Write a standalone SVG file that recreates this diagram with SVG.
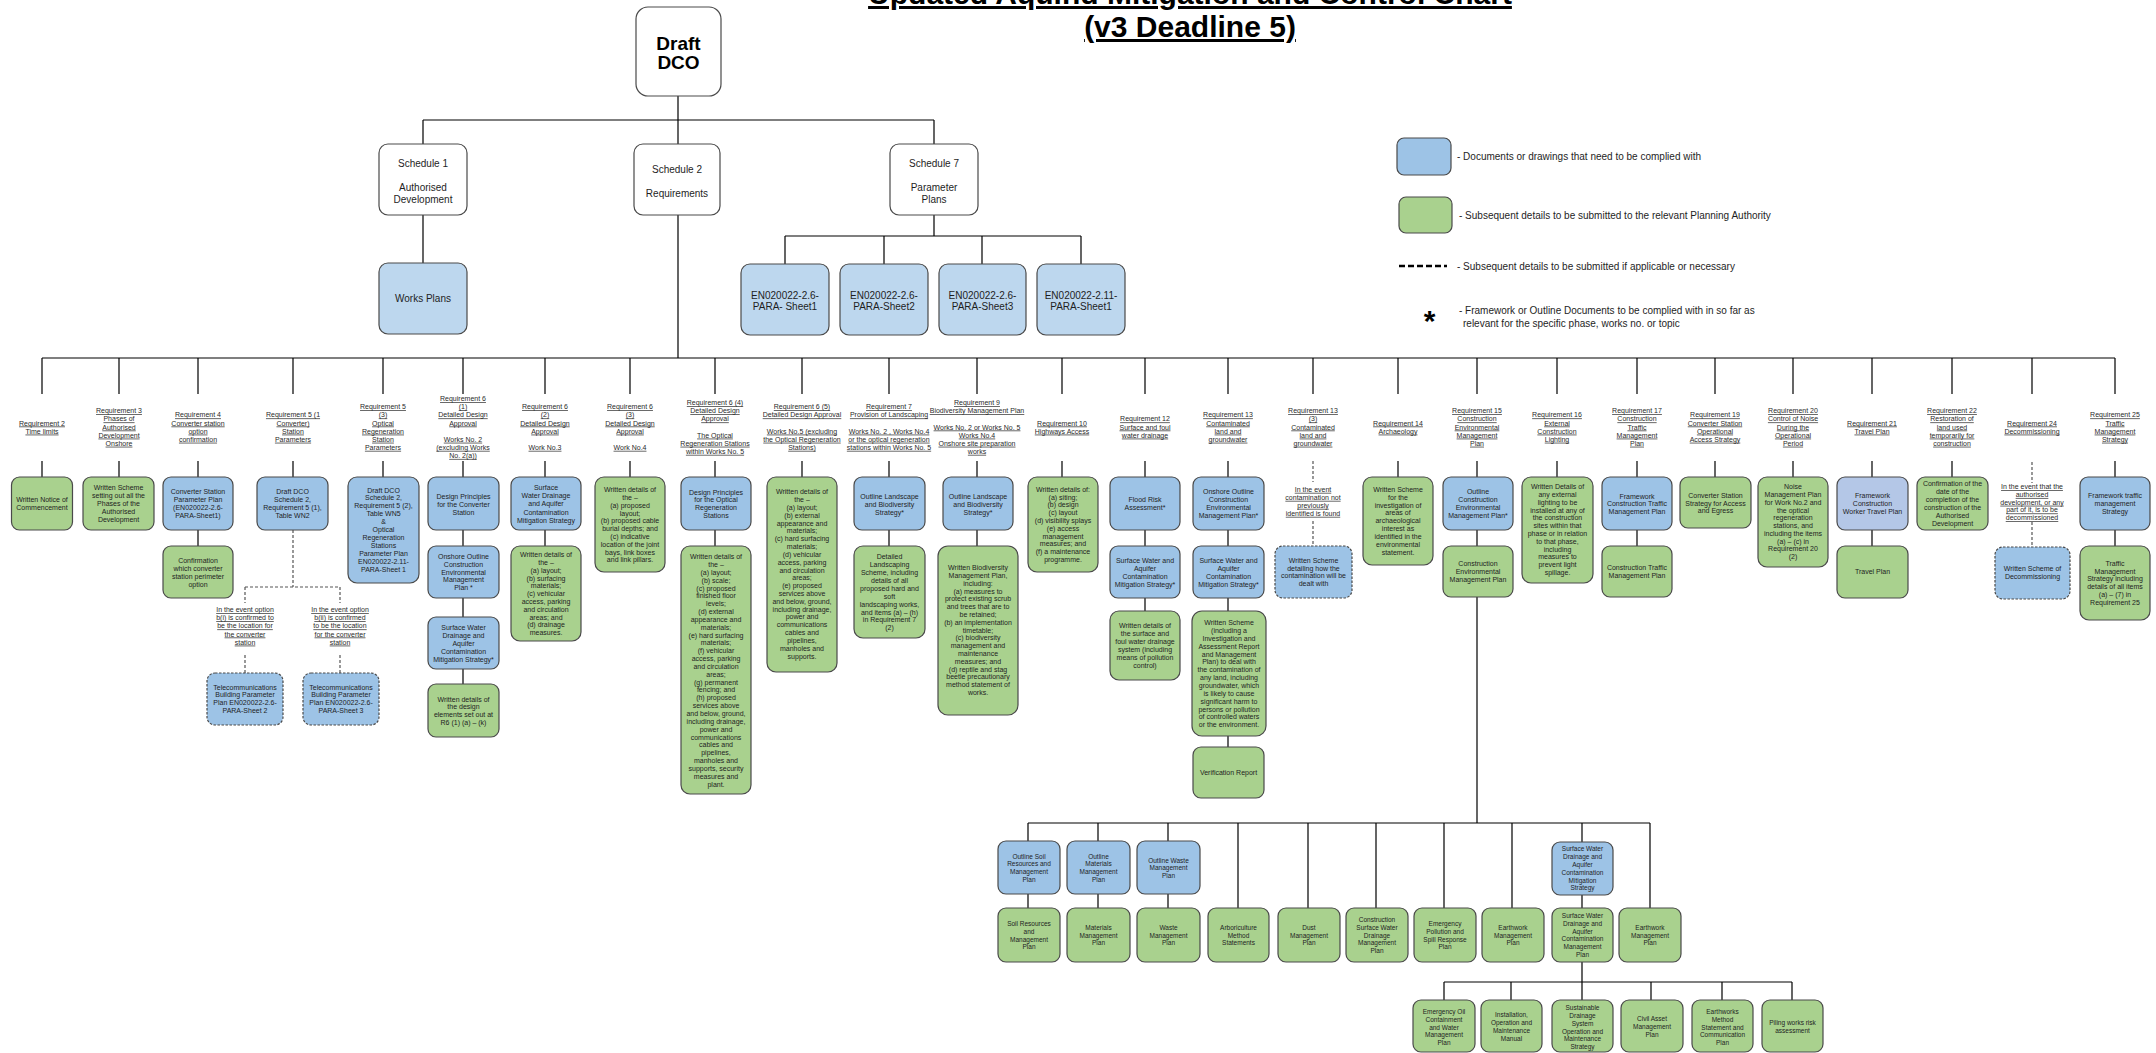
<svg xmlns="http://www.w3.org/2000/svg" width="2156" height="1053" viewBox="0 0 2156 1053">
<style>
.n{stroke:#4a4a4a;stroke-width:1.2}
.w{fill:#fff}
.b{fill:#9dc3e6}
.g{fill:#a9d18e}
.lb{fill:#bdd7ee}
.lv{fill:#b4c7e7}
.dsh{stroke-dasharray:2.5 1.5}
.t{font-family:"Liberation Sans",Arial,sans-serif;font-size:7px;fill:#1e1e1e;text-anchor:middle}
.s{font-size:6.5px}
.r{font-family:"Liberation Sans",Arial,sans-serif;font-size:7px;fill:#2a2a2a;text-anchor:middle;text-decoration:underline}
.m{font-family:"Liberation Sans",Arial,sans-serif;font-size:10px;fill:#1e1e1e;text-anchor:middle}
.lg{font-family:"Liberation Sans",Arial,sans-serif;font-size:10px;fill:#1e1e1e}
.ti{font-family:"Liberation Sans",Arial,sans-serif;font-size:30px;font-weight:bold;fill:#000;text-anchor:middle;text-decoration:underline}
.c{fill:none;stroke:#000;stroke-width:1.2}
.cd{fill:none;stroke:#555;stroke-width:1.2;stroke-dasharray:3 2}
</style>
<rect width="2156" height="1053" fill="#fff"/>

<g id="title">
<text class="ti" x="1190" y="4">Updated Aquind Mitigation and Control Chart</text>
<text class="ti" x="1190" y="37">(v3 Deadline 5)</text>
</g>

<g id="connectors">
<path class="c" d="M678 96V120M423 120H934M423 120V144M678 120V144M934 120V144M423 215V263M934 215V236M785 236H1081M785 236V264M884 236V264M982 236V264M1081 236V264M678 215V358M42 358H2115"/>
<path class="c" d="M42 358V394M119 358V394M198 358V394M293 358V394M383 358V394M463 358V394M545 358V394M630 358V394M715 358V394M802 358V394M889 358V394M977 358V394M1062 358V394M1145 358V394M1228 358V394M1313 358V394M1398 358V394M1477 358V394M1557 358V394M1637 358V394M1715 358V394M1793 358V394M1872 358V394M1952 358V394M2032 358V394M2115 358V394"/>
<path class="c" d="M42 461V477M119 461V477M198 461V477M293 461V477M383 461V477M463 461V477M545 461V477M630 461V477M715 461V477M802 461V477M889 461V477M977 461V477M1062 461V477M1145 461V477M1228 461V477M1398 461V477M1477 461V477M1557 461V477M1637 461V477M1715 461V477M1793 461V477M1872 461V477M1952 461V477M2115 461V477"/>
<path class="c" d="M198 530V546M463 530V546M463 598V617M463 669V684M545 530V546M715 530V546M889 530V546M977 530V546M1145 530V546M1145 598V611M1228 530V546M1228 598V611M1228 736V747M1477 530V546M1477 597V823M1637 530V546M1872 530V546M2115 530V546"/>
<path class="cd" d="M293 530V587M245 587H340M245 587V603M340 587V603M245 655V673M340 655V673M1313 461V482M1313 521V546M2032 462V483M2032 522V547"/>
<path class="c" d="M1028 823H1650M1028 823V841M1098 823V841M1168 823V841M1238 823V908M1308 823V908M1376 823V908M1444 823V908M1512 823V908M1582 823V842M1650 823V908M1028 894V908M1098 894V908M1168 894V908M1582 895V908M1582 962V982M1444 982H1792M1444 982V1000M1511 982V1000M1582 982V1000M1651 982V1000M1722 982V1000M1792 982V1000"/>
</g>

<g id="draft-dco"><rect class="n w" x="636" y="7" width="85" height="89" rx="12"/>
<text x="678.5" y="50" font-family="Liberation Sans,Arial,sans-serif" font-size="19" font-weight="bold" text-anchor="middle">Draft</text>
<text x="678.5" y="69" font-family="Liberation Sans,Arial,sans-serif" font-size="19" font-weight="bold" text-anchor="middle">DCO</text></g>

<g id="schedule1"><rect class="n w" x="379" y="144" width="88" height="71" rx="9"/>
<text class="m" x="423" y="166.5">Schedule 1<tspan x="423" dy="24">Authorised</tspan><tspan x="423" dy="12">Development</tspan></text></g>
<g id="schedule2"><rect class="n w" x="634" y="144" width="86" height="71" rx="9"/>
<text class="m" x="677" y="172.5">Schedule 2<tspan x="677" dy="24">Requirements</tspan></text></g>
<g id="schedule7"><rect class="n w" x="890" y="144" width="88" height="71" rx="9"/>
<text class="m" x="934" y="166.5">Schedule 7<tspan x="934" dy="24">Parameter</tspan><tspan x="934" dy="12">Plans</tspan></text></g>
<g id="works-plans"><rect class="n lb" x="379" y="263" width="88" height="71" rx="9"/>
<text class="m" x="423" y="301.5">Works Plans</text></g>
<g id="en1"><rect class="n lb" x="741" y="264" width="88" height="71" rx="9"/>
<text class="m" x="785" y="298.5">EN020022-2.6-<tspan x="785" dy="11">PARA- Sheet1</tspan></text></g>
<g id="en2"><rect class="n lb" x="840" y="264" width="88" height="71" rx="9"/>
<text class="m" x="884" y="298.5">EN020022-2.6-<tspan x="884" dy="11">PARA-Sheet2</tspan></text></g>
<g id="en3"><rect class="n lb" x="939" y="264" width="87" height="71" rx="9"/>
<text class="m" x="982.5" y="298.5">EN020022-2.6-<tspan x="982.5" dy="11">PARA-Sheet3</tspan></text></g>
<g id="en4"><rect class="n lb" x="1037" y="264" width="88" height="71" rx="9"/>
<text class="m" x="1081" y="298.5">EN020022-2.11-<tspan x="1081" dy="11">PARA-Sheet1</tspan></text></g>

<g id="legend">
<rect class="n b" x="1397" y="138" width="54" height="37" rx="7"/>
<text class="lg" x="1457" y="160">- Documents or drawings that need to be complied with</text>
<rect class="n g" x="1399" y="197" width="53" height="36" rx="7"/>
<text class="lg" x="1459" y="219">- Subsequent details to be submitted to the relevant Planning Authority</text>
<path d="M1399 266H1447" stroke="#000" stroke-width="2.5" stroke-dasharray="6 3"/>
<text class="lg" x="1457" y="269.5">- Subsequent details to be submitted if applicable or necessary</text>
<text x="1429.5" y="331" font-family="Liberation Sans,Arial,sans-serif" font-size="30" font-weight="bold" text-anchor="middle">*</text>
<text class="lg" x="1459" y="314">- Framework or Outline Documents to be complied with in so far as</text>
<text class="lg" x="1463" y="327">relevant for the specific phase, works no. or topic</text>
</g>

<!-- Requirement labels -->
<g id="req-labels">
<text class="r" x="42" y="425.5">Requirement 2<tspan x="42" dy="8.1">Time limits</tspan></text>
<text class="r" x="119" y="413.3">Requirement 3<tspan x="119" dy="8.1">Phases of</tspan><tspan x="119" dy="8.1">Authorised</tspan><tspan x="119" dy="8.1">Development</tspan><tspan x="119" dy="8.1">Onshore</tspan></text>
<text class="r" x="198" y="417.4">Requirement 4<tspan x="198" dy="8.1">Converter station</tspan><tspan x="198" dy="8.1">option</tspan><tspan x="198" dy="8.1">confirmation</tspan></text>
<text class="r" x="293" y="417.4">Requirement 5 (1<tspan x="293" dy="8.1">Converter)</tspan><tspan x="293" dy="8.1">Station</tspan><tspan x="293" dy="8.1">Parameters</tspan></text>
<text class="r" x="383" y="409.3">Requirement 5<tspan x="383" dy="8.1">(3)</tspan><tspan x="383" dy="8.1">Optical</tspan><tspan x="383" dy="8.1">Regeneration</tspan><tspan x="383" dy="8.1">Station</tspan><tspan x="383" dy="8.1">Parameters</tspan></text>
<text class="r" x="463" y="401.2">Requirement 6<tspan x="463" dy="8.1">(1)</tspan><tspan x="463" dy="8.1">Detailed Design</tspan><tspan x="463" dy="8.1">Approval</tspan><tspan x="463" dy="16.2">Works No. 2</tspan><tspan x="463" dy="8.1">(excluding Works</tspan><tspan x="463" dy="8.1">No. 2(a))</tspan></text>
<text class="r" x="545" y="409.3">Requirement 6<tspan x="545" dy="8.1">(2)</tspan><tspan x="545" dy="8.1">Detailed Design</tspan><tspan x="545" dy="8.1">Approval</tspan><tspan x="545" dy="16.2">Work No.3</tspan></text>
<text class="r" x="630" y="409.3">Requirement 6<tspan x="630" dy="8.1">(3)</tspan><tspan x="630" dy="8.1">Detailed Design</tspan><tspan x="630" dy="8.1">Approval</tspan><tspan x="630" dy="16.2">Work No.4</tspan></text>
<text class="r" x="715" y="405.2">Requirement 6 (4)<tspan x="715" dy="8.1">Detailed Design</tspan><tspan x="715" dy="8.1">Approval</tspan><tspan x="715" dy="16.2">The Optical</tspan><tspan x="715" dy="8.1">Regeneration Stations</tspan><tspan x="715" dy="8.1">within Works No. 5</tspan></text>
<text class="r" x="802" y="409.3">Requirement 6 (5)<tspan x="802" dy="8.1">Detailed Design Approval</tspan><tspan x="802" dy="16.2">Works No.5 (excluding</tspan><tspan x="802" dy="8.1">the Optical Regeneration</tspan><tspan x="802" dy="8.1">Stations)</tspan></text>
<text class="r" x="889" y="409.3">Requirement 7<tspan x="889" dy="8.1">Provision of Landscaping</tspan><tspan x="889" dy="16.2">Works No. 2 , Works No.4</tspan><tspan x="889" dy="8.1">or the optical regeneration</tspan><tspan x="889" dy="8.1">stations within Works No. 5</tspan></text>
<text class="r" x="977" y="405.2">Requirement 9<tspan x="977" dy="8.1">Biodiversity Management Plan</tspan><tspan x="977" dy="16.2">Works No. 2 or Works No. 5</tspan><tspan x="977" dy="8.1">Works No.4</tspan><tspan x="977" dy="8.1">Onshore site preparation</tspan><tspan x="977" dy="8.1">works</tspan></text>
<text class="r" x="1062" y="425.5">Requirement 10<tspan x="1062" dy="8.1">Highways Access</tspan></text>
<text class="r" x="1145" y="421.4">Requirement 12<tspan x="1145" dy="8.1">Surface and foul</tspan><tspan x="1145" dy="8.1">water drainage</tspan></text>
<text class="r" x="1228" y="417.4">Requirement 13<tspan x="1228" dy="8.1">Contaminated</tspan><tspan x="1228" dy="8.1">land and</tspan><tspan x="1228" dy="8.1">groundwater</tspan></text>
<text class="r" x="1313" y="413.3">Requirement 13<tspan x="1313" dy="8.1">(3)</tspan><tspan x="1313" dy="8.1">Contaminated</tspan><tspan x="1313" dy="8.1">land and</tspan><tspan x="1313" dy="8.1">groundwater</tspan></text>
<text class="r" x="1398" y="425.5">Requirement 14<tspan x="1398" dy="8.1">Archaeology</tspan></text>
<text class="r" x="1477" y="413.3">Requirement 15<tspan x="1477" dy="8.1">Construction</tspan><tspan x="1477" dy="8.1">Environmental</tspan><tspan x="1477" dy="8.1">Management</tspan><tspan x="1477" dy="8.1">Plan</tspan></text>
<text class="r" x="1557" y="417.4">Requirement 16<tspan x="1557" dy="8.1">External</tspan><tspan x="1557" dy="8.1">Construction</tspan><tspan x="1557" dy="8.1">Lighting</tspan></text>
<text class="r" x="1637" y="413.3">Requirement 17<tspan x="1637" dy="8.1">Construction</tspan><tspan x="1637" dy="8.1">Traffic</tspan><tspan x="1637" dy="8.1">Management</tspan><tspan x="1637" dy="8.1">Plan</tspan></text>
<text class="r" x="1715" y="417.4">Requirement 19<tspan x="1715" dy="8.1">Converter Station</tspan><tspan x="1715" dy="8.1">Operational</tspan><tspan x="1715" dy="8.1">Access Strategy</tspan></text>
<text class="r" x="1793" y="413.3">Requirement 20<tspan x="1793" dy="8.1">Control of Noise</tspan><tspan x="1793" dy="8.1">During the</tspan><tspan x="1793" dy="8.1">Operational</tspan><tspan x="1793" dy="8.1">Period</tspan></text>
<text class="r" x="1872" y="425.5">Requirement 21<tspan x="1872" dy="8.1">Travel Plan</tspan></text>
<text class="r" x="1952" y="413.3">Requirement 22<tspan x="1952" dy="8.1">Restoration of</tspan><tspan x="1952" dy="8.1">land used</tspan><tspan x="1952" dy="8.1">temporarily for</tspan><tspan x="1952" dy="8.1">construction</tspan></text>
<text class="r" x="2032" y="425.5">Requirement 24<tspan x="2032" dy="8.1">Decommissioning</tspan></text>
<text class="r" x="2115" y="417.4">Requirement 25<tspan x="2115" dy="8.1">Traffic</tspan><tspan x="2115" dy="8.1">Management</tspan><tspan x="2115" dy="8.1">Strategy</tspan></text>
<text class="r" x="245" y="612.2">In the event option<tspan x="245" dy="8.1">b(i) is confirmed to</tspan><tspan x="245" dy="8.1">be the location for</tspan><tspan x="245" dy="8.1">the converter</tspan><tspan x="245" dy="8.1">station</tspan></text>
<text class="r" x="340" y="612.2">In the event option<tspan x="340" dy="8.1">b(ii) is confirmed</tspan><tspan x="340" dy="8.1">to be the location</tspan><tspan x="340" dy="8.1">for the converter</tspan><tspan x="340" dy="8.1">station</tspan></text>
<text class="r" x="1313" y="491.8">In the event<tspan x="1313" dy="8">contamination not</tspan><tspan x="1313" dy="8">previously</tspan><tspan x="1313" dy="8">identified is found</tspan></text>
<text class="r" x="2032" y="489.2">In the event that the<tspan x="2032" dy="7.75">authorised</tspan><tspan x="2032" dy="7.75">development, or any</tspan><tspan x="2032" dy="7.75">part of it, is to be</tspan><tspan x="2032" dy="7.75">decommissioned</tspan></text>
</g>

<g id="r2-notice"><rect class="n g" x="11.5" y="477" width="61" height="53" rx="8"/>
<text class="t" x="42" y="501.8">Written Notice of<tspan x="42" dy="8">Commencement</tspan></text></g>
<g id="r3-scheme"><rect class="n g" x="83" y="477" width="71" height="53" rx="8"/>
<text class="t" x="118.5" y="490.2">Written Scheme<tspan x="118.5" dy="8">setting out all the</tspan><tspan x="118.5" dy="8">Phases of the</tspan><tspan x="118.5" dy="8">Authorised</tspan><tspan x="118.5" dy="8">Development</tspan></text></g>
<g id="r4-param"><rect class="n b" x="163" y="477" width="70" height="53" rx="8"/>
<text class="t" x="198" y="493.8">Converter Station<tspan x="198" dy="8.1">Parameter Plan</tspan><tspan x="198" dy="8.1">(EN020022-2.6-</tspan><tspan x="198" dy="8.1">PARA-Sheet1)</tspan></text></g>
<g id="r4-confirm"><rect class="n g" x="163" y="546" width="70" height="52" rx="8"/>
<text class="t" x="198" y="562.5">Confirmation<tspan x="198" dy="8.2">which converter</tspan><tspan x="198" dy="8.2">station perimeter</tspan><tspan x="198" dy="8.2">option</tspan></text></g>
<g id="r5-1-table"><rect class="n b" x="257" y="477" width="71" height="53" rx="8"/>
<text class="t" x="292.5" y="493.8">Draft DCO<tspan x="292.5" dy="8.1">Schedule 2,</tspan><tspan x="292.5" dy="8.1">Requirement 5 (1),</tspan><tspan x="292.5" dy="8.1">Table WN2</tspan></text></g>
<g id="telecom-2"><rect class="n b dsh" x="207" y="673" width="76" height="52" rx="8"/>
<text class="t" x="245" y="689.8">Telecommunications<tspan x="245" dy="7.6">Building Parameter</tspan><tspan x="245" dy="7.6">Plan EN020022-2.6-</tspan><tspan x="245" dy="7.6">PARA-Sheet 2</tspan></text></g>
<g id="telecom-3"><rect class="n b dsh" x="303" y="673" width="76" height="52" rx="8"/>
<text class="t" x="341" y="689.8">Telecommunications<tspan x="341" dy="7.6">Building Parameter</tspan><tspan x="341" dy="7.6">Plan EN020022-2.6-</tspan><tspan x="341" dy="7.6">PARA-Sheet 3</tspan></text></g>
<g id="r5-3-table"><rect class="n b" x="348" y="477" width="71" height="106" rx="9"/>
<text class="t" x="383.5" y="492.5">Draft DCO<tspan x="383.5" dy="7.9">Schedule 2,</tspan><tspan x="383.5" dy="7.9">Requirement 5 (2),</tspan><tspan x="383.5" dy="7.9">Table WN5</tspan><tspan x="383.5" dy="7.9">&amp;</tspan><tspan x="383.5" dy="7.9">Optical</tspan><tspan x="383.5" dy="7.9">Regeneration</tspan><tspan x="383.5" dy="7.9">Stations</tspan><tspan x="383.5" dy="7.9">Parameter Plan</tspan><tspan x="383.5" dy="7.9">EN020022-2.11-</tspan><tspan x="383.5" dy="7.9">PARA-Sheet 1</tspan></text></g>
<g id="r6-1-principles"><rect class="n b" x="428" y="477" width="71" height="53" rx="8"/>
<text class="t" x="463.5" y="498.5">Design Principles<tspan x="463.5" dy="8">for the Converter</tspan><tspan x="463.5" dy="8">Station</tspan></text></g>
<g id="r6-1-ocemp"><rect class="n b" x="428" y="546" width="71" height="52" rx="8"/>
<text class="t" x="463.5" y="559.2">Onshore Outline<tspan x="463.5" dy="7.75">Construction</tspan><tspan x="463.5" dy="7.75">Environmental</tspan><tspan x="463.5" dy="7.75">Management</tspan><tspan x="463.5" dy="7.75">Plan *</tspan></text></g>
<g id="r6-1-swdacms"><rect class="n b" x="428" y="617" width="71" height="52" rx="8"/>
<text class="t" x="463.5" y="630.2">Surface Water<tspan x="463.5" dy="7.85">Drainage and</tspan><tspan x="463.5" dy="7.85">Aquifer</tspan><tspan x="463.5" dy="7.85">Contamination</tspan><tspan x="463.5" dy="7.85">Mitigation Strategy*</tspan></text></g>
<g id="r6-1-details"><rect class="n g" x="428" y="684" width="71" height="53" rx="8"/>
<text class="t" x="463.5" y="701.5">Written details of<tspan x="463.5" dy="7.7">the design</tspan><tspan x="463.5" dy="7.7">elements set out at</tspan><tspan x="463.5" dy="7.7">R6 (1) (a) – (k)</tspan></text></g>
<g id="r6-2-swdacms"><rect class="n b" x="511" y="477" width="70" height="53" rx="8"/>
<text class="t" x="546" y="490.2">Surface<tspan x="546" dy="8.1">Water Drainage</tspan><tspan x="546" dy="8.1">and Aquifer</tspan><tspan x="546" dy="8.1">Contamination</tspan><tspan x="546" dy="8.1">Mitigation Strategy</tspan></text></g>
<g id="r6-2-details"><rect class="n g" x="511" y="546" width="70" height="95" rx="9"/>
<text class="t" x="546" y="557.2">Written details of<tspan x="546" dy="7.8">the –</tspan><tspan x="546" dy="7.8">(a) layout;</tspan><tspan x="546" dy="7.8">(b) surfacing</tspan><tspan x="546" dy="7.8">materials;</tspan><tspan x="546" dy="7.8">(c) vehicular</tspan><tspan x="546" dy="7.8">access, parking</tspan><tspan x="546" dy="7.8">and circulation</tspan><tspan x="546" dy="7.8">areas; and</tspan><tspan x="546" dy="7.8">(d) drainage</tspan><tspan x="546" dy="7.8">measures.</tspan></text></g>
<g id="r6-3-details"><rect class="n g" x="595" y="477" width="70" height="95" rx="9"/>
<text class="t" x="630" y="492.2">Written details of<tspan x="630" dy="7.8">the –</tspan><tspan x="630" dy="7.8">(a) proposed</tspan><tspan x="630" dy="7.8">layout;</tspan><tspan x="630" dy="7.8">(b) proposed cable</tspan><tspan x="630" dy="7.8">burial depths; and</tspan><tspan x="630" dy="7.8">(c) indicative</tspan><tspan x="630" dy="7.8">location of the joint</tspan><tspan x="630" dy="7.8">bays, link boxes</tspan><tspan x="630" dy="7.8">and link pillars.</tspan></text></g>
<g id="r6-4-principles"><rect class="n b" x="681" y="477" width="70" height="53" rx="8"/>
<text class="t" x="716" y="494.5">Design Principles<tspan x="716" dy="7.9">for the Optical</tspan><tspan x="716" dy="7.9">Regeneration</tspan><tspan x="716" dy="7.9">Stations</tspan></text></g>
<g id="r6-4-details"><rect class="n g" x="681" y="546" width="70" height="248" rx="9"/>
<text class="t" x="716" y="559.2">Written details of<tspan x="716" dy="7.84">the –</tspan><tspan x="716" dy="7.84">(a) layout;</tspan><tspan x="716" dy="7.84">(b) scale;</tspan><tspan x="716" dy="7.84">(c) proposed</tspan><tspan x="716" dy="7.84">finished floor</tspan><tspan x="716" dy="7.84">levels;</tspan><tspan x="716" dy="7.84">(d) external</tspan><tspan x="716" dy="7.84">appearance and</tspan><tspan x="716" dy="7.84">materials;</tspan><tspan x="716" dy="7.84">(e) hard surfacing</tspan><tspan x="716" dy="7.84">materials;</tspan><tspan x="716" dy="7.84">(f) vehicular</tspan><tspan x="716" dy="7.84">access, parking</tspan><tspan x="716" dy="7.84">and circulation</tspan><tspan x="716" dy="7.84">areas;</tspan><tspan x="716" dy="7.84">(g) permanent</tspan><tspan x="716" dy="7.84">fencing; and</tspan><tspan x="716" dy="7.84">(h) proposed</tspan><tspan x="716" dy="7.84">services above</tspan><tspan x="716" dy="7.84">and below, ground,</tspan><tspan x="716" dy="7.84">including drainage,</tspan><tspan x="716" dy="7.84">power and</tspan><tspan x="716" dy="7.84">communications</tspan><tspan x="716" dy="7.84">cables and</tspan><tspan x="716" dy="7.84">pipelines,</tspan><tspan x="716" dy="7.84">manholes and</tspan><tspan x="716" dy="7.84">supports, security</tspan><tspan x="716" dy="7.84">measures and</tspan><tspan x="716" dy="7.84">plant.</tspan></text></g>
<g id="r6-5-details"><rect class="n g" x="767" y="477" width="70" height="195" rx="9"/>
<text class="t" x="802" y="494.2">Written details of<tspan x="802" dy="7.83">the –</tspan><tspan x="802" dy="7.83">(a) layout;</tspan><tspan x="802" dy="7.83">(b) external</tspan><tspan x="802" dy="7.83">appearance and</tspan><tspan x="802" dy="7.83">materials;</tspan><tspan x="802" dy="7.83">(c) hard surfacing</tspan><tspan x="802" dy="7.83">materials;</tspan><tspan x="802" dy="7.83">(d) vehicular</tspan><tspan x="802" dy="7.83">access, parking</tspan><tspan x="802" dy="7.83">and circulation</tspan><tspan x="802" dy="7.83">areas;</tspan><tspan x="802" dy="7.83">(e) proposed</tspan><tspan x="802" dy="7.83">services above</tspan><tspan x="802" dy="7.83">and below, ground,</tspan><tspan x="802" dy="7.83">including drainage,</tspan><tspan x="802" dy="7.83">power and</tspan><tspan x="802" dy="7.83">communications</tspan><tspan x="802" dy="7.83">cables and</tspan><tspan x="802" dy="7.83">pipelines,</tspan><tspan x="802" dy="7.83">manholes and</tspan><tspan x="802" dy="7.83">supports.</tspan></text></g>
<g id="r7-olbs"><rect class="n b" x="854" y="477" width="71" height="53" rx="8"/>
<text class="t" x="889.5" y="498.5">Outline Landscape<tspan x="889.5" dy="8">and Biodiversity</tspan><tspan x="889.5" dy="8">Strategy*</tspan></text></g>
<g id="r7-landscaping"><rect class="n g" x="854" y="546" width="71" height="92" rx="9"/>
<text class="t" x="889.5" y="559.2">Detailed<tspan x="889.5" dy="7.9">Landscaping</tspan><tspan x="889.5" dy="7.9">Scheme, including</tspan><tspan x="889.5" dy="7.9">details of all</tspan><tspan x="889.5" dy="7.9">proposed hard and</tspan><tspan x="889.5" dy="7.9">soft</tspan><tspan x="889.5" dy="7.9">landscaping works,</tspan><tspan x="889.5" dy="7.9">and items (a) – (h)</tspan><tspan x="889.5" dy="7.9">in Requirement 7</tspan><tspan x="889.5" dy="7.9">(2)</tspan></text></g>
<g id="r9-olbs"><rect class="n b" x="943" y="477" width="70" height="53" rx="8"/>
<text class="t" x="978" y="498.5">Outline Landscape<tspan x="978" dy="8">and Biodiversity</tspan><tspan x="978" dy="8">Strategy*</tspan></text></g>
<g id="r9-bmp"><rect class="n g" x="938" y="546" width="80" height="169" rx="10"/>
<text class="t" x="978" y="570.2">Written Biodiversity<tspan x="978" dy="7.8">Management Plan,</tspan><tspan x="978" dy="7.8">including:</tspan><tspan x="978" dy="7.8">(a) measures to</tspan><tspan x="978" dy="7.8">protect existing scrub</tspan><tspan x="978" dy="7.8">and trees that are to</tspan><tspan x="978" dy="7.8">be retained;</tspan><tspan x="978" dy="7.8">(b) an implementation</tspan><tspan x="978" dy="7.8">timetable;</tspan><tspan x="978" dy="7.8">(c) biodiversity</tspan><tspan x="978" dy="7.8">management and</tspan><tspan x="978" dy="7.8">maintenance</tspan><tspan x="978" dy="7.8">measures; and</tspan><tspan x="978" dy="7.8">(d) reptile and stag</tspan><tspan x="978" dy="7.8">beetle precautionary</tspan><tspan x="978" dy="7.8">method statement of</tspan><tspan x="978" dy="7.8">works.</tspan></text></g>
<g id="r10-details"><rect class="n g" x="1028" y="477" width="70" height="95" rx="9"/>
<text class="t" x="1063" y="491.8">Written details of:<tspan x="1063" dy="7.8">(a) siting;</tspan><tspan x="1063" dy="7.8">(b) design</tspan><tspan x="1063" dy="7.8">(c) layout</tspan><tspan x="1063" dy="7.8">(d) visibility splays</tspan><tspan x="1063" dy="7.8">(e) access</tspan><tspan x="1063" dy="7.8">management</tspan><tspan x="1063" dy="7.8">measures; and</tspan><tspan x="1063" dy="7.8">(f) a maintenance</tspan><tspan x="1063" dy="7.8">programme.</tspan></text></g>
<g id="r12-fra"><rect class="n b" x="1110" y="477" width="70" height="53" rx="8"/>
<text class="t" x="1145" y="501.8">Flood Risk<tspan x="1145" dy="8">Assessment*</tspan></text></g>
<g id="r12-swacms"><rect class="n b" x="1110" y="546" width="70" height="52" rx="8"/>
<text class="t" x="1145" y="563.2">Surface Water and<tspan x="1145" dy="7.8">Aquifer</tspan><tspan x="1145" dy="7.8">Contamination</tspan><tspan x="1145" dy="7.8">Mitigation Strategy*</tspan></text></g>
<g id="r12-details"><rect class="n g" x="1110" y="611" width="70" height="69" rx="9"/>
<text class="t" x="1145" y="628.2">Written details of<tspan x="1145" dy="7.9">the surface and</tspan><tspan x="1145" dy="7.9">foul water drainage</tspan><tspan x="1145" dy="7.9">system (including</tspan><tspan x="1145" dy="7.9">means of pollution</tspan><tspan x="1145" dy="7.9">control)</tspan></text></g>
<g id="r13-ocemp"><rect class="n b" x="1193" y="477" width="71" height="53" rx="8"/>
<text class="t" x="1228.5" y="494.2">Onshore Outline<tspan x="1228.5" dy="8">Construction</tspan><tspan x="1228.5" dy="8">Environmental</tspan><tspan x="1228.5" dy="8">Management Plan*</tspan></text></g>
<g id="r13-swacms"><rect class="n b" x="1193" y="546" width="71" height="52" rx="8"/>
<text class="t" x="1228.5" y="563.2">Surface Water and<tspan x="1228.5" dy="7.8">Aquifer</tspan><tspan x="1228.5" dy="7.8">Contamination</tspan><tspan x="1228.5" dy="7.8">Mitigation Strategy*</tspan></text></g>
<g id="r13-scheme"><rect class="n g" x="1192" y="611" width="74" height="125" rx="10"/>
<text class="t" x="1229" y="625.2">Written Scheme<tspan x="1229" dy="7.85">(including a</tspan><tspan x="1229" dy="7.85">Investigation and</tspan><tspan x="1229" dy="7.85">Assessment Report</tspan><tspan x="1229" dy="7.85">and Management</tspan><tspan x="1229" dy="7.85">Plan) to deal with</tspan><tspan x="1229" dy="7.85">the contamination of</tspan><tspan x="1229" dy="7.85">any land, including</tspan><tspan x="1229" dy="7.85">groundwater, which</tspan><tspan x="1229" dy="7.85">is likely to cause</tspan><tspan x="1229" dy="7.85">significant harm to</tspan><tspan x="1229" dy="7.85">persons or pollution</tspan><tspan x="1229" dy="7.85">of controlled waters</tspan><tspan x="1229" dy="7.85">or the environment.</tspan></text></g>
<g id="r13-verification"><rect class="n g" x="1193" y="747" width="71" height="51" rx="8"/>
<text class="t" x="1228.5" y="775.2">Verification Report</text></g>
<g id="r13-3-scheme"><rect class="n b dsh" x="1275" y="546" width="77" height="52" rx="8"/>
<text class="t" x="1313.5" y="563.2">Written Scheme<tspan x="1313.5" dy="7.6">detailing how the</tspan><tspan x="1313.5" dy="7.6">contamination will be</tspan><tspan x="1313.5" dy="7.6">dealt with</tspan></text></g>
<g id="r14-scheme"><rect class="n g" x="1363" y="477" width="70" height="88" rx="9"/>
<text class="t" x="1398" y="491.8">Written Scheme<tspan x="1398" dy="7.85">for the</tspan><tspan x="1398" dy="7.85">investigation of</tspan><tspan x="1398" dy="7.85">areas of</tspan><tspan x="1398" dy="7.85">archaeological</tspan><tspan x="1398" dy="7.85">interest as</tspan><tspan x="1398" dy="7.85">identified in the</tspan><tspan x="1398" dy="7.85">environmental</tspan><tspan x="1398" dy="7.85">statement.</tspan></text></g>
<g id="r15-ocemp"><rect class="n b" x="1443" y="477" width="70" height="53" rx="8"/>
<text class="t" x="1478" y="494.2">Outline<tspan x="1478" dy="8">Construction</tspan><tspan x="1478" dy="8">Environmental</tspan><tspan x="1478" dy="8">Management Plan*</tspan></text></g>
<g id="r15-cemp"><rect class="n g" x="1443" y="546" width="70" height="51" rx="8"/>
<text class="t" x="1478" y="565.8">Construction<tspan x="1478" dy="8.2">Environmental</tspan><tspan x="1478" dy="8.2">Management Plan</tspan></text></g>
<g id="r16-lighting"><rect class="n g" x="1522" y="477" width="71" height="106" rx="9"/>
<text class="t" x="1557.5" y="489.2">Written Details of<tspan x="1557.5" dy="7.8">any external</tspan><tspan x="1557.5" dy="7.8">lighting to be</tspan><tspan x="1557.5" dy="7.8">installed at any of</tspan><tspan x="1557.5" dy="7.8">the construction</tspan><tspan x="1557.5" dy="7.8">sites within that</tspan><tspan x="1557.5" dy="7.8">phase or in relation</tspan><tspan x="1557.5" dy="7.8">to that phase,</tspan><tspan x="1557.5" dy="7.8">including</tspan><tspan x="1557.5" dy="7.8">measures to</tspan><tspan x="1557.5" dy="7.8">prevent light</tspan><tspan x="1557.5" dy="7.8">spillage.</tspan></text></g>
<g id="r17-fctmp"><rect class="n b" x="1602" y="477" width="70" height="53" rx="8"/>
<text class="t" x="1637" y="498.5">Framework<tspan x="1637" dy="7.8">Construction Traffic</tspan><tspan x="1637" dy="7.8">Management Plan</tspan></text></g>
<g id="r17-ctmp"><rect class="n g" x="1602" y="546" width="70" height="51" rx="8"/>
<text class="t" x="1637" y="570.2">Construction Traffic<tspan x="1637" dy="8">Management Plan</tspan></text></g>
<g id="r19-access"><rect class="n g" x="1680" y="477" width="71" height="51" rx="8"/>
<text class="t" x="1715.5" y="498.2">Converter Station<tspan x="1715.5" dy="7.5">Strategy for Access</tspan><tspan x="1715.5" dy="7.5">and Egress</tspan></text></g>
<g id="r20-noise"><rect class="n g" x="1758" y="477" width="70" height="90" rx="9"/>
<text class="t" x="1793" y="489.2">Noise<tspan x="1793" dy="7.78">Management Plan</tspan><tspan x="1793" dy="7.78">for Work No.2 and</tspan><tspan x="1793" dy="7.78">the optical</tspan><tspan x="1793" dy="7.78">regeneration</tspan><tspan x="1793" dy="7.78">stations, and</tspan><tspan x="1793" dy="7.78">including the items</tspan><tspan x="1793" dy="7.78">(a) – (c) in</tspan><tspan x="1793" dy="7.78">Requirement 20</tspan><tspan x="1793" dy="7.78">(2)</tspan></text></g>
<g id="r21-fcwtp"><rect class="n lv" x="1837" y="477" width="71" height="53" rx="8"/>
<text class="t" x="1872.5" y="498.2">Framework<tspan x="1872.5" dy="7.8">Construction</tspan><tspan x="1872.5" dy="7.8">Worker Travel Plan</tspan></text></g>
<g id="r21-travel"><rect class="n g" x="1837" y="546" width="71" height="52" rx="8"/>
<text class="t" x="1872.5" y="574.2">Travel Plan</text></g>
<g id="r22-confirm"><rect class="n g" x="1917" y="477" width="71" height="53" rx="8"/>
<text class="t" x="1952.5" y="485.8">Confirmation of the<tspan x="1952.5" dy="8">date of the</tspan><tspan x="1952.5" dy="8">completion of the</tspan><tspan x="1952.5" dy="8">construction of the</tspan><tspan x="1952.5" dy="8">Authorised</tspan><tspan x="1952.5" dy="8">Development</tspan></text></g>
<g id="r24-decom"><rect class="n b dsh" x="1995" y="547" width="75" height="52" rx="8"/>
<text class="t" x="2032.5" y="571.2">Written Scheme of<tspan x="2032.5" dy="8">Decommissioning</tspan></text></g>
<g id="r25-ftms"><rect class="n b" x="2080" y="477" width="70" height="53" rx="8"/>
<text class="t" x="2115" y="498.2">Framework traffic<tspan x="2115" dy="8">management</tspan><tspan x="2115" dy="8">Strategy</tspan></text></g>
<g id="r25-tms"><rect class="n g" x="2080" y="546" width="70" height="74" rx="9"/>
<text class="t" x="2115" y="565.8">Traffic<tspan x="2115" dy="7.8">Management</tspan><tspan x="2115" dy="7.8">Strategy including</tspan><tspan x="2115" dy="7.8">details of all items</tspan><tspan x="2115" dy="7.8">(a) – (7) in</tspan><tspan x="2115" dy="7.8">Requirement 25</tspan></text></g>

<g id="osrmp"><rect class="n b" x="998" y="841" width="62" height="53" rx="8"/>
<text class="t s" x="1029" y="858.5">Outline Soil<tspan x="1029" dy="7.7">Resources and</tspan><tspan x="1029" dy="7.7">Management</tspan><tspan x="1029" dy="7.7">Plan</tspan></text></g>
<g id="ommp"><rect class="n b" x="1067" y="841" width="63" height="53" rx="8"/>
<text class="t s" x="1098.5" y="858.5">Outline<tspan x="1098.5" dy="7.7">Materials</tspan><tspan x="1098.5" dy="7.7">Management</tspan><tspan x="1098.5" dy="7.7">Plan</tspan></text></g>
<g id="owmp"><rect class="n b" x="1137" y="841" width="63" height="53" rx="8"/>
<text class="t s" x="1168.5" y="862.5">Outline Waste<tspan x="1168.5" dy="7.8">Management</tspan><tspan x="1168.5" dy="7.8">Plan</tspan></text></g>
<g id="swdacms-low"><rect class="n b" x="1552" y="842" width="61" height="53" rx="8"/>
<text class="t s" x="1582.5" y="851.2">Surface Water<tspan x="1582.5" dy="7.85">Drainage and</tspan><tspan x="1582.5" dy="7.85">Aquifer</tspan><tspan x="1582.5" dy="7.85">Contamination</tspan><tspan x="1582.5" dy="7.85">Mitigation</tspan><tspan x="1582.5" dy="7.85">Strategy</tspan></text></g>
<g id="srmp"><rect class="n g" x="998" y="908" width="62" height="54" rx="8"/>
<text class="t s" x="1029" y="926.2">Soil Resources<tspan x="1029" dy="7.7">and</tspan><tspan x="1029" dy="7.7">Management</tspan><tspan x="1029" dy="7.7">Plan</tspan></text></g>
<g id="mmp"><rect class="n g" x="1067" y="908" width="63" height="54" rx="8"/>
<text class="t s" x="1098.5" y="930.2">Materials<tspan x="1098.5" dy="7.5">Management</tspan><tspan x="1098.5" dy="7.5">Plan</tspan></text></g>
<g id="wmp"><rect class="n g" x="1137" y="908" width="63" height="54" rx="8"/>
<text class="t s" x="1168.5" y="930.2">Waste<tspan x="1168.5" dy="7.5">Management</tspan><tspan x="1168.5" dy="7.5">Plan</tspan></text></g>
<g id="ams"><rect class="n g" x="1208" y="908" width="61" height="54" rx="8"/>
<text class="t s" x="1238.5" y="930.2">Arboriculture<tspan x="1238.5" dy="7.5">Method</tspan><tspan x="1238.5" dy="7.5">Statements</tspan></text></g>
<g id="dmp"><rect class="n g" x="1278" y="908" width="62" height="54" rx="8"/>
<text class="t s" x="1309" y="930.2">Dust<tspan x="1309" dy="7.5">Management</tspan><tspan x="1309" dy="7.5">Plan</tspan></text></g>
<g id="cswdmp"><rect class="n g" x="1346" y="908" width="62" height="54" rx="8"/>
<text class="t s" x="1377" y="921.8">Construction<tspan x="1377" dy="7.85">Surface Water</tspan><tspan x="1377" dy="7.85">Drainage</tspan><tspan x="1377" dy="7.85">Management</tspan><tspan x="1377" dy="7.85">Plan</tspan></text></g>
<g id="epsrp"><rect class="n g" x="1414" y="908" width="62" height="54" rx="8"/>
<text class="t s" x="1445" y="926.2">Emergency<tspan x="1445" dy="7.7">Pollution and</tspan><tspan x="1445" dy="7.7">Spill Response</tspan><tspan x="1445" dy="7.7">Plan</tspan></text></g>
<g id="emp1"><rect class="n g" x="1482" y="908" width="62" height="54" rx="8"/>
<text class="t s" x="1513" y="930.2">Earthwork<tspan x="1513" dy="7.5">Management</tspan><tspan x="1513" dy="7.5">Plan</tspan></text></g>
<g id="swdacmp"><rect class="n g" x="1552" y="908" width="61" height="54" rx="8"/>
<text class="t s" x="1582.5" y="917.8">Surface Water<tspan x="1582.5" dy="7.85">Drainage and</tspan><tspan x="1582.5" dy="7.85">Aquifer</tspan><tspan x="1582.5" dy="7.85">Contamination</tspan><tspan x="1582.5" dy="7.85">Management</tspan><tspan x="1582.5" dy="7.85">Plan</tspan></text></g>
<g id="emp2"><rect class="n g" x="1619" y="908" width="62" height="54" rx="8"/>
<text class="t s" x="1650" y="930.2">Earthwork<tspan x="1650" dy="7.5">Management</tspan><tspan x="1650" dy="7.5">Plan</tspan></text></g>
<g id="eocwmp"><rect class="n g" x="1413" y="1000" width="62" height="52" rx="8"/>
<text class="t s" x="1444" y="1014.2">Emergency Oil<tspan x="1444" dy="7.65">Containment</tspan><tspan x="1444" dy="7.65">and Water</tspan><tspan x="1444" dy="7.65">Management</tspan><tspan x="1444" dy="7.65">Plan</tspan></text></g>
<g id="iomm"><rect class="n g" x="1481" y="1000" width="61" height="52" rx="8"/>
<text class="t s" x="1511.5" y="1016.8">Installation,<tspan x="1511.5" dy="8.1">Operation and</tspan><tspan x="1511.5" dy="8.1">Maintenance</tspan><tspan x="1511.5" dy="8.1">Manual</tspan></text></g>
<g id="sdsoms"><rect class="n g" x="1552" y="1000" width="61" height="52" rx="8"/>
<text class="t s" x="1582.5" y="1010.2">Sustainable<tspan x="1582.5" dy="7.8">Drainage</tspan><tspan x="1582.5" dy="7.8">System</tspan><tspan x="1582.5" dy="7.8">Operation and</tspan><tspan x="1582.5" dy="7.8">Maintenance</tspan><tspan x="1582.5" dy="7.8">Strategy</tspan></text></g>
<g id="camp"><rect class="n g" x="1621" y="1000" width="62" height="52" rx="8"/>
<text class="t s" x="1652" y="1021.2">Civil Asset<tspan x="1652" dy="8">Management</tspan><tspan x="1652" dy="8">Plan</tspan></text></g>
<g id="emscp"><rect class="n g" x="1692" y="1000" width="61" height="52" rx="8"/>
<text class="t s" x="1722.5" y="1014.2">Earthworks<tspan x="1722.5" dy="7.65">Method</tspan><tspan x="1722.5" dy="7.65">Statement and</tspan><tspan x="1722.5" dy="7.65">Communication</tspan><tspan x="1722.5" dy="7.65">Plan</tspan></text></g>
<g id="pwra"><rect class="n g" x="1762" y="1000" width="61" height="52" rx="8"/>
<text class="t s" x="1792.5" y="1025.2">Piling works risk<tspan x="1792.5" dy="8">assessment</tspan></text></g>
</svg>
